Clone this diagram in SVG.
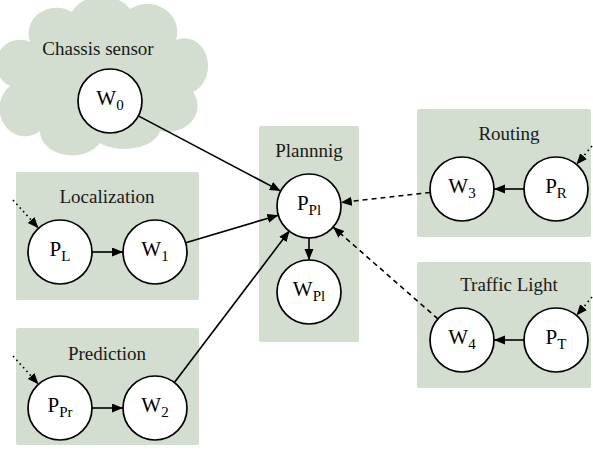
<svg xmlns="http://www.w3.org/2000/svg" width="593" height="455" viewBox="0 0 593 455">
  <style>
    .cluster { fill: #d3ddd0; stroke: none; }
    .title { font-family: "Liberation Serif", "Times New Roman", serif; font-size: 19px; fill: #1a1a1a; text-anchor: middle; }
    .node circle { fill: #ffffff; stroke: #000000; stroke-width: 1.7; }
    .node text { font-family: "Liberation Serif", "Times New Roman", serif; font-size: 21px; fill: #000000; text-anchor: middle; }
    .sub { font-size: 15px; }
    .edge { stroke: #000000; stroke-width: 1.6; fill: none; }
    .dashed { stroke-dasharray: 5 4; }
    .dotted { stroke-dasharray: 1.6 3.4; }
  </style>
  <defs>
    <marker id="arrow" markerUnits="userSpaceOnUse" markerWidth="13" markerHeight="10" refX="11" refY="4.5" orient="auto">
      <path d="M0,0 L11,4.5 L0,9 Z" fill="#000000"/>
    </marker>
  </defs>

  <!-- clusters -->
  <g id="cluster-chassis">
    <path class="cluster" d="M30,42 A28,26 0 0 1 72,12 A32,24 0 0 1 130,9 A30,28 0 0 1 176,40 A22,26 0 0 1 193,92 A30,26 0 0 1 160,131 A36,22 0 0 1 100,143 A32,24 0 0 1 40,131 A22,24 0 0 1 10,86 A22,22 0 0 1 30,42 Z"/>
    <text class="title" x="98" y="55">Chassis sensor</text>
  </g>
  <g id="cluster-localization">
    <rect class="cluster" x="16" y="172" width="183" height="128" rx="2"/>
    <text class="title" x="107" y="203">Localization</text>
  </g>
  <g id="cluster-prediction">
    <rect class="cluster" x="16" y="328" width="183" height="117" rx="2"/>
    <text class="title" x="107" y="360">Prediction</text>
  </g>
  <g id="cluster-planning">
    <rect class="cluster" x="259" y="126" width="100" height="216" rx="2"/>
    <text class="title" x="309" y="157">Plannnig</text>
  </g>
  <g id="cluster-routing">
    <rect class="cluster" x="417" y="109" width="174" height="128" rx="2"/>
    <text class="title" x="509" y="140">Routing</text>
  </g>
  <g id="cluster-traffic">
    <rect class="cluster" x="417" y="262" width="174" height="126" rx="2"/>
    <text class="title" x="509" y="291">Traffic Light</text>
  </g>

  <!-- connectors -->
  <g id="edges">
    <line class="edge" x1="138.3" y1="115.9" x2="280.7" y2="191.1" marker-end="url(#arrow)"/>
    <line class="edge" x1="185.7" y1="242.8" x2="278.3" y2="215.2" marker-end="url(#arrow)"/>
    <line class="edge" x1="174.4" y1="382.6" x2="289.6" y2="230.6" marker-end="url(#arrow)"/>
    <line class="edge" x1="309" y1="238" x2="309" y2="260" marker-end="url(#arrow)"/>
    <line class="edge dashed" x1="430.2" y1="192.5" x2="340.8" y2="202.5" marker-end="url(#arrow)"/>
    <line class="edge dashed" x1="437.9" y1="318.9" x2="333.1" y2="227.1" marker-end="url(#arrow)"/>
    <line class="edge" x1="92" y1="252" x2="123" y2="252" marker-end="url(#arrow)"/>
    <line class="edge" x1="92" y1="408" x2="123" y2="408" marker-end="url(#arrow)"/>
    <line class="edge" x1="524" y1="189" x2="494" y2="189" marker-end="url(#arrow)"/>
    <line class="edge" x1="524" y1="340" x2="494" y2="340" marker-end="url(#arrow)"/>
    <line class="edge dotted" x1="13" y1="200" x2="38.5" y2="228.2" marker-end="url(#arrow)"/>
    <line class="edge dotted" x1="13" y1="356" x2="38.5" y2="384.2" marker-end="url(#arrow)"/>
    <line class="edge dotted" x1="592" y1="146" x2="576.5" y2="164.5" marker-end="url(#arrow)"/>
    <line class="edge dotted" x1="592" y1="297" x2="576.5" y2="315.5" marker-end="url(#arrow)"/>
  </g>

  <!-- nodes -->
  <g id="W0" class="node">
    <circle cx="110" cy="101" r="32"/>
    <text x="110" y="105">W<tspan class="sub" dy="5">0</tspan></text>
  </g>
  <g id="PL" class="node">
    <circle cx="60" cy="252" r="32"/>
    <text x="60" y="256">P<tspan class="sub" dy="5">L</tspan></text>
  </g>
  <g id="W1" class="node">
    <circle cx="155" cy="252" r="32"/>
    <text x="155" y="256">W<tspan class="sub" dy="5">1</tspan></text>
  </g>
  <g id="PPr" class="node">
    <circle cx="60" cy="408" r="32"/>
    <text x="60" y="412">P<tspan class="sub" dy="5">Pr</tspan></text>
  </g>
  <g id="W2" class="node">
    <circle cx="155" cy="408" r="32"/>
    <text x="155" y="412">W<tspan class="sub" dy="5">2</tspan></text>
  </g>
  <g id="PPl" class="node">
    <circle cx="309" cy="206" r="32"/>
    <text x="309" y="210">P<tspan class="sub" dy="5">Pl</tspan></text>
  </g>
  <g id="WPl" class="node">
    <circle cx="309" cy="292" r="32"/>
    <text x="309" y="296">W<tspan class="sub" dy="5">Pl</tspan></text>
  </g>
  <g id="W3" class="node">
    <circle cx="462" cy="189" r="32"/>
    <text x="462" y="193">W<tspan class="sub" dy="5">3</tspan></text>
  </g>
  <g id="PR" class="node">
    <circle cx="556" cy="189" r="32"/>
    <text x="556" y="193">P<tspan class="sub" dy="5">R</tspan></text>
  </g>
  <g id="W4" class="node">
    <circle cx="462" cy="340" r="32"/>
    <text x="462" y="344">W<tspan class="sub" dy="5">4</tspan></text>
  </g>
  <g id="PT" class="node">
    <circle cx="556" cy="340" r="32"/>
    <text x="556" y="344">P<tspan class="sub" dy="5">T</tspan></text>
  </g>
</svg>
